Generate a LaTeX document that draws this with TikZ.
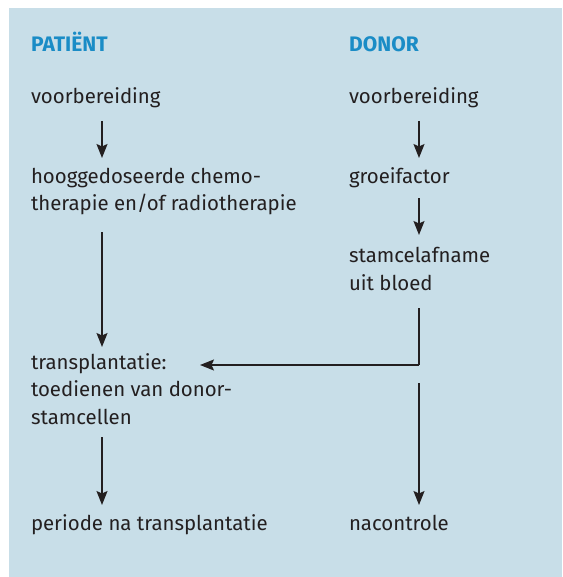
\documentclass[tikz,border=0pt]{standalone}
\usepackage{fontspec}
\setmainfont{Fira Sans}
\usetikzlibrary{arrows.meta,calc}
\definecolor{bgblue}{HTML}{C8DEE8}
\definecolor{titleblue}{HTML}{1A8CC6}
\definecolor{txt}{HTML}{231F20}
\begin{document}
\begin{tikzpicture}[x=1pt,y=-1pt,
  lbl/.style={anchor=base west,inner sep=0pt,outer sep=0pt,text=txt,align=left,
    font=\fontsize{20.4}{27.5}\selectfont},
  ttl/.style={anchor=base west,inner sep=0pt,text=titleblue,
    font=\bfseries\fontsize{21}{24}\selectfont},
  arr/.style={draw=txt,line width=1.3pt,-{Stealth[length=14pt,width=11pt,inset=2.5pt]}},
  ln/.style={draw=txt,line width=1.3pt}]
\useasboundingbox (0,0) rectangle (562,577);
\fill[bgblue] (9,8) rectangle (562,577);
\coordinate (cl) at (102,0);
\coordinate (cr) at (419,0);
\node[ttl] (tp) at (31,52) {PATIËNT};
\node[ttl] (td) at (349,52) {DONOR};
\node[lbl] (pv) at (31,104) {voorbereiding};
\node[lbl] (dv) at (349,104) {voorbereiding};
\node[lbl] (ph) at (31,211) {hooggedoseerde chemo-\\therapie en/of radiotherapie};
\node[lbl] (dg) at (349,183) {groeifactor};
\node[lbl] (ds) at (349,290) {stamcelafname\\uit bloed};
\node[lbl] (pt) at (31,424) {transplantatie:\\toedienen van donor-\\stamcellen};
\node[lbl] (pp) at (31,530) {periode na transplantatie};
\node[lbl] (dn) at (349,530) {nacontrole};
\coordinate (bend) at (419,365);
\draw[arr] ($(pv.base -| cl)+(0,17)$) -- ($(ph.base -| cl)+(0,-53)$);
\draw[arr] ($(dv.base -| cr)+(0,17)$) -- ($(dg.base -| cr)+(0,-25)$);
\draw[arr] ($(ph.base -| cl)+(0,21)$) -- ($(pt.base -| cl)+(0,-77)$);
\draw[arr] ($(dg.base -| cr)+(0,15)$) -- ($(ds.base -| cr)+(0,-55)$);
\draw[ln] ($(ds.base -| cr)+(0,18)$) -- (bend);
\draw[arr] (bend) -- ($(pt.base west)+(169,-59)$);
\draw[arr] ($(bend)+(0,18)$) -- ($(dn.base -| cr)+(0,-25)$);
\draw[arr] ($(pt.base -| cl)+(0,13)$) -- ($(pp.base -| cl)+(0,-25)$);
\end{tikzpicture}
\end{document}
